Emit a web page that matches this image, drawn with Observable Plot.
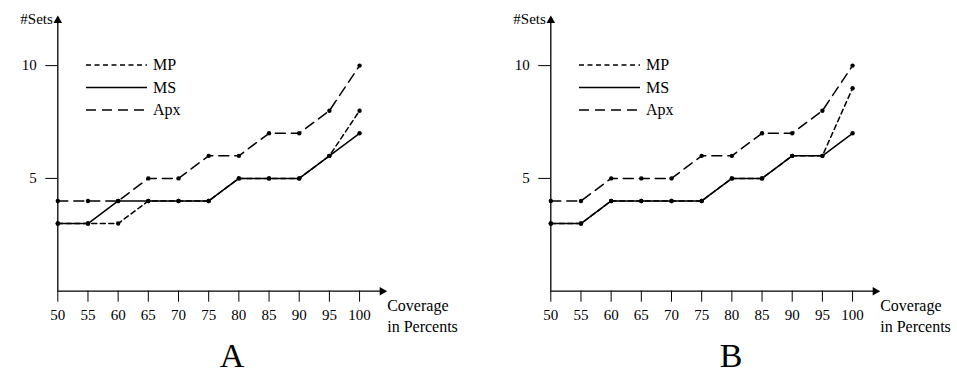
<!DOCTYPE html>
<html>
<head>
<meta charset="utf-8">
<script src="https://cdn.jsdelivr.net/npm/d3@7"></script>
<script src="https://cdn.jsdelivr.net/npm/@observablehq/plot@0.6"></script>
<style>
  html, body { margin: 0; padding: 0; background: white; }
  #wrap { position: relative; width: 957px; height: 375px; overflow: hidden; font-family: "Liberation Serif", serif; }
  .panel { position: absolute; top: 0; width: 464px; height: 340px; }
  .panel svg { overflow: visible; }
  .panel svg text { font-family: "Liberation Serif", serif !important; }
  .legend { position: absolute; left: 0; top: 0; pointer-events: none; }
  .caption { position: absolute; top: 343px; font-size: 34px; line-height: 26px; height: 26px; width: 100px; text-align: center; color: black; font-family: "Liberation Serif", serif; }
</style>
</head>
<body>
<div id="wrap"></div>
<script>
// ---- data ----
const coverage = [50, 55, 60, 65, 70, 75, 80, 85, 90, 95, 100];
const mpA  = [3, 3, 3, 4, 4, 4, 5, 5, 5, 6, 8];
const msA  = [3, 3, 4, 4, 4, 4, 5, 5, 5, 6, 7];
const apxA = [4, 4, 4, 5, 5, 6, 6, 7, 7, 8, 10];
const mpB  = [3, 3, 4, 4, 4, 4, 5, 5, 6, 6, 9];
const msB  = [3, 3, 4, 4, 4, 4, 5, 5, 6, 6, 7];
const apxB = [4, 4, 5, 5, 5, 6, 6, 7, 7, 8, 10];
const yTicks = [5, 10];
const seriesNames = ["MP", "MS", "Apx"];
const panelLabels = ["A", "B"];
const xDomain = [50, 103.75];
const yDomain = [0, 12];

const dashes = {MP: "5,3.5", MS: null, Apx: "10,6"};
const font = "Liberation Serif, serif";

function makePanel(mp, ms, apx) {
  const rows = coverage.map((x, i) => ({x, MP: mp[i], MS: ms[i], Apx: apx[i]}));
  const marks = [];
  for (const s of seriesNames) {
    marks.push(Plot.line(rows, {x: "x", y: s, stroke: "black", strokeWidth: 1.5, strokeDasharray: dashes[s]}));
  }
  for (const s of seriesNames) {
    marks.push(Plot.dot(rows, {x: "x", y: s, r: 2.2, fill: "black"}));
  }
  marks.push(
    Plot.ruleX([xDomain[0]], {stroke: "black", strokeWidth: 1.3}),
    Plot.ruleY([yDomain[0]], {stroke: "black", strokeWidth: 1.3}),
    Plot.dot([{x: xDomain[1], y: yDomain[0]}], {x: "x", y: "y", symbol: "triangle", r: 3.2, fill: "black", rotate: 90}),
    Plot.dot([{x: xDomain[0], y: yDomain[1]}], {x: "x", y: "y", symbol: "triangle", r: 3.2, fill: "black"}),
    Plot.axisX({ticks: coverage, tickSize: 11, tickPadding: 7, label: null, tickFormat: d => String(d)}),
    Plot.axisY({ticks: yTicks, tickSize: 12, tickPadding: 9, label: null}),
    Plot.text(["#Sets"], {frameAnchor: "top-left", textAnchor: "end", lineAnchor: "middle", dx: -5, dy: -1.5, fontSize: 15}),
    Plot.text(["Coverage\nin Percents"], {frameAnchor: "bottom-right", textAnchor: "start", lineAnchor: "top", dx: 5, dy: 4.6, fontSize: 16, lineHeight: 1.34})
  );
  return Plot.plot({
    width: 464,
    height: 340,
    marginLeft: 57.3,
    marginRight: 82.3,
    marginTop: 20,
    marginBottom: 49.3,
    x: {domain: xDomain},
    y: {domain: yDomain},
    style: {fontFamily: font, fontSize: "15px", color: "black", background: "white", overflow: "visible"},
    marks
  });
}

function makeLegend() {
  const svg = d3.create("svg").attr("class", "legend").attr("width", 240).attr("height", 130);
  seriesNames.forEach((s, i) => {
    const y = 65 + i * 22.5;
    svg.append("line").attr("x1", 86).attr("x2", 147).attr("y1", y).attr("y2", y)
      .attr("stroke", "black").attr("stroke-width", 1.5)
      .attr("stroke-dasharray", dashes[s]);
    svg.append("text").attr("x", 153).attr("y", y).attr("dy", "0.34em")
      .attr("font-family", font).attr("font-size", 16).attr("fill", "black").text(s);
  });
  return svg.node();
}

const wrap = document.getElementById("wrap");
const panels = [[mpA, msA, apxA], [mpB, msB, apxB]];
const lefts = [0, 493];
const captionCenters = [232, 731];
panels.forEach((p, k) => {
  const div = document.createElement("div");
  div.className = "panel";
  div.style.left = lefts[k] + "px";
  div.appendChild(makePanel(...p));
  div.appendChild(makeLegend());
  wrap.appendChild(div);
  const cap = document.createElement("div");
  cap.className = "caption";
  cap.style.left = (captionCenters[k] - 50) + "px";
  cap.textContent = panelLabels[k];
  wrap.appendChild(cap);
});
</script>
</body>
</html>
